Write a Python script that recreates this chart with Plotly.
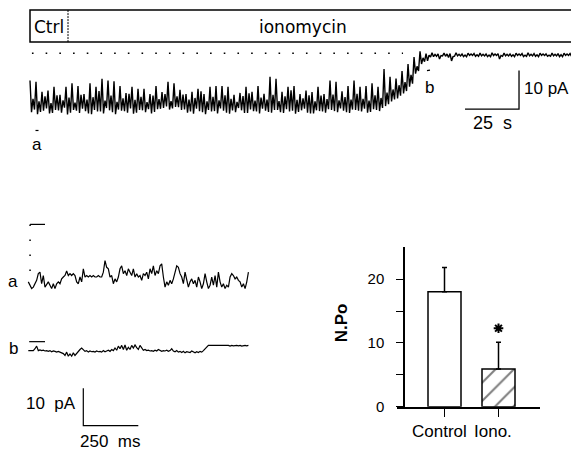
import plotly.graph_objects as go

WIN_W, WIN_H = 579, 458
OFF = 8                       # default page body margin
W, H = WIN_W - OFF, WIN_H - OFF
FONT = "Liberation Sans, Arial, sans-serif"
WIDE = "DejaVu Sans, Liberation Sans, sans-serif"

# ---------------- data ----------------
# Top continuous recording (pA): per ~2.8 s segment a spike peak, trough,
# intermediate peak and second trough
top_hi = [-7.1, -7.4, -10.0, -9.7, -8.7, -10.8, -8.7, -7.8, -8.5, -10.6,
          -7.8, -8.7, -6.6, -7.1, -7.3, -8.5, -10.3, -8.7, -9.2, -9.2,
          -10.6, -8.5, -10.1, -7.4, -7.8, -9.5, -10.6, -10.0, -9.2, -10.6,
          -8.7, -8.5, -8.5, -8.7, -10.8, -10.3, -8.7, -10.0, -8.5, -10.5,
          -6.1, -6.6, -10.0, -8.7, -8.5, -10.6, -9.7, -10.1, -8.7, -10.6,
          -7.1, -7.4, -9.9, -8.5, -7.1, -8.7, -8.5, -7.8, -8.7, -4.1,
          -6.1, -6.6, -4.6, -2.8, -1.0, 0.5, -0.1, 0.1, -0.2, 0.0,
          -0.1, 0.1, -0.2, 0.0, -0.1, 0.0, -0.2, 0.1, -0.1, 0.0,
          -0.2, 0.0, -0.1, 0.1, -0.1, 0.0, -0.2, 0.0, -0.1, 0.0, -0.1]
top_lo = [-15.3, -15.8, -14.9, -15.6, -14.7, -15.4, -15.9, -14.7, -15.5, -15.0,
          -15.8, -15.1, -15.6, -14.8, -15.8, -14.9, -15.4, -15.7, -14.7, -15.3,
          -15.6, -14.5, -14.2, -14.6, -13.9, -14.7, -15.4, -15.7, -15.0, -15.8,
          -15.1, -15.6, -14.9, -15.7, -15.3, -14.8, -15.5, -15.0, -15.6, -14.9,
          -15.4, -14.7, -15.5, -15.1, -15.7, -14.8, -15.4, -15.6, -15.0, -15.4,
          -14.7, -15.3, -14.9, -15.5, -14.7, -15.1, -15.4, -14.5, -15.0, -13.7,
          -12.5, -11.7, -10.4, -8.7, -5.3, -2.8, -2.0, -0.9, -1.5, -0.8,
          -2.0, -0.7, -0.9, -0.6, -0.8, -0.7, -0.9, -0.6, -1.5, -0.7,
          -0.8, -0.6, -0.9, -0.7, -0.8, -0.6, -0.8, -0.7, -0.9, -0.6, -0.8]
top_mid = [-11.8, -12.5, -11.2, -12.9, -10.9, -12.2, -11.5, -12.8, -10.8, -12.0,
           -11.4, -9.8, -12.3, -11.0, -12.6, -11.7, -10.5, -12.1, -11.3, -12.7,
           -11.0, -11.9, -10.6, -12.4, -11.2, -10.7, -12.0, -11.6, -9.9, -12.5,
           -11.3, -12.2, -10.9, -11.8, -12.6, -11.1, -10.4, -12.3, -11.5, -12.0,
           -10.8, -12.4, -11.2, -9.6, -12.1, -11.7, -10.9, -12.5, -11.0, -11.9,
           -10.7, -12.2, -11.4, -12.0, -10.5, -11.8, -12.3, -10.9, -11.6, -10.2,
           -9.4, -8.3, -7.5, -5.6, -3.4, -1.2, -0.5, -0.3, -0.6, -0.2,
           -0.9, -0.3, -0.5, -0.2, -0.4, -0.3, -0.5, -0.2, -0.6, -0.3,
           -0.4, -0.2, -0.5, -0.3, -0.4, -0.2, -0.5, -0.3, -0.4, -0.2, -0.4]
top_lo2 = [-14.6, -15.2, -14.3, -15.5, -14.8, -14.1, -15.4, -14.9, -14.4, -15.6,
           -14.7, -15.1, -14.2, -15.3, -14.6, -15.0, -14.3, -15.4, -14.8, -14.5,
           -15.2, -14.4, -13.8, -14.3, -14.0, -14.6, -15.1, -14.4, -15.3, -14.7,
           -15.0, -14.3, -15.4, -14.8, -14.2, -15.5, -14.6, -15.1, -14.4, -15.2,
           -14.7, -15.3, -14.5, -14.9, -15.2, -14.4, -15.6, -14.8, -15.1, -14.5,
           -15.0, -14.3, -15.3, -14.6, -14.9, -14.4, -15.2, -14.7, -14.2, -13.2,
           -12.0, -11.0, -9.8, -7.9, -4.6, -2.2, -1.0, -0.8, -0.7, -1.1,
           -0.8, -0.7, -0.9, -0.6, -0.8, -0.7, -0.9, -0.6, -0.8, -0.7,
           -0.9, -0.6, -0.8, -0.7, -0.9, -0.6, -0.8, -0.7, -0.9, -0.6, -0.8]
TOP_SEG_S = 2.778          # seconds per segment

# Expanded sweeps a (control) and b (ionomycin), pA
trace_a = [-15.4, -16.3, -17.2, -16.8, -15.9, -15.0, -13.2, -12.8, -15.9, -13.7,
           -16.8, -15.9, -15.4, -16.3, -17.2, -15.9, -17.2, -15.9, -15.4, -15.9,
           -14.6, -14.1, -13.7, -12.5, -13.7, -13.2, -13.7, -13.2, -13.7, -15.4,
           -15.9, -14.1, -15.4, -11.9, -14.1, -13.7, -14.1, -13.7, -14.1, -13.7,
           -14.1, -14.1, -13.7, -14.1, -14.1, -12.8, -9.7, -11.5, -11.9, -14.1,
           -13.7, -15.9, -14.6, -15.4, -14.1, -11.9, -11.1, -13.2, -12.4, -13.7,
           -11.9, -12.8, -13.7, -11.9, -14.1, -13.2, -14.1, -13.7, -15.0, -13.2,
           -13.7, -12.8, -14.6, -11.9, -13.2, -11.1, -13.7, -12.4, -13.2, -11.1,
           -10.6, -14.1, -16.8, -15.4, -16.3, -15.0, -15.9, -14.6, -12.8, -11.1,
           -11.5, -13.2, -14.1, -15.9, -12.8, -15.0, -16.8, -15.4, -14.6, -15.9,
           -15.0, -16.8, -14.1, -15.4, -17.2, -15.9, -13.2, -15.4, -17.2, -16.3,
           -14.1, -16.3, -13.7, -16.8, -12.8, -15.4, -16.8, -15.9, -17.2, -16.3,
           -16.8, -14.1, -13.2, -13.7, -14.6, -14.1, -15.0, -15.4, -16.8, -15.9,
           -17.2, -15.4, -12.8]
trace_b = [-2.4, -2.4, -2.3, -2.4, -1.9, -1.2, -2.4, -2.2, -2.4, -2.3,
           -2.5, -2.4, -2.6, -2.4, -2.7, -2.5, -2.6, -2.8, -2.6, -2.8,
           -3.0, -3.2, -3.7, -2.8, -3.9, -3.3, -3.9, -3.0, -3.7, -3.1,
           -2.8, -2.1, -1.7, -2.3, -2.6, -2.4, -2.8, -2.5, -2.7, -2.6,
           -2.8, -2.5, -2.7, -2.6, -2.8, -2.4, -2.7, -2.5, -2.3, -2.6,
           -2.1, -2.4, -1.7, -2.3, -1.2, -1.9, -1.0, -2.1, -0.9, -2.3,
           -1.5, -2.1, -1.0, -1.7, -0.9, -1.6, -2.1, -1.0, -1.7, -2.3,
           -2.1, -2.4, -2.3, -2.5, -2.4, -2.6, -2.3, -2.5, -2.1, -2.4,
           -2.6, -2.4, -2.5, -2.3, -2.6, -2.4, -1.9, -2.5, -2.7, -2.4,
           -2.8, -2.6, -2.9, -2.6, -3.0, -2.7, -2.8, -2.9, -2.5, -2.8,
           -3.0, -2.7, -2.9, -2.6, -2.8, -2.4, -1.9, -1.2, -1.0, -1.0,
           -1.0, -0.9, -1.0, -1.0, -1.1, -1.0, -1.0, -0.9, -1.1, -1.0,
           -1.0, -1.2, -1.0, -1.1, -1.0, -1.0, -1.1, -1.0, -1.2, -1.0,
           -1.0, -1.1, -1.0]
SWEEP_DT_MS = 7.58

# Bar chart
bar_labels = ["Control", "Iono."]
bar_values = [18.0, 5.9]
bar_errors = [3.8, 4.2]
bar_ticks = [0, 5, 10, 15, 20]
bar_ticktext = ["0", "", "10", "", "20"]

# ---------------- geometry helpers (window pixel -> paper) ----------------
def PX(x):
    return (x - OFF) / W

def PY(y):
    return 1 - (y - OFF) / H

# top recording axis: t=0 at px 30, 54 px per 25 s; 0 pA at py 54, 3.93 px/pA
T_PER_PX = 25 / 54.0
I_PER_PX = 1 / 3.93
top_xr = [(OFF - 30) * T_PER_PX, (WIN_W - 30) * T_PER_PX]
top_yr = [-(WIN_H - 54) * I_PER_PX, (54 - OFF) * I_PER_PX]

# sweeps axis: t=0 at px 28.3, 55 px per 250 ms; 3.8 px/pA
MS_PER_PX = 250 / 55.0
sw_xr = [(OFF - 28.3) * MS_PER_PX, (WIN_W - 28.3) * MS_PER_PX]
a_yr = [-(WIN_H - 228.3) / 3.8, (228.3 - OFF) / 3.8]
b_yr = [-(WIN_H - 347.7) / 3.8, (347.7 - OFF) / 3.8]

fig = go.Figure()

# top trace
top_t, top_i = [], []
q = TOP_SEG_S / 4
for k in range(len(top_hi)):
    t0 = k * TOP_SEG_S
    top_t += [t0, t0 + q, t0 + 2 * q, t0 + 3 * q]
    top_i += [top_hi[k], top_lo[k], top_mid[k], top_lo2[k]]
fig.add_trace(go.Scatter(x=top_t, y=top_i, mode="lines",
                         line=dict(color="black", width=1.4),
                         xaxis="x", yaxis="y", hoverinfo="skip"))
# dotted zero-current line
fig.add_trace(go.Scatter(x=[0.9, 172.7], y=[0, 0], mode="lines",
                         line=dict(color="black", width=1.6, dash="1.6px,12.1px"),
                         xaxis="x", yaxis="y", hoverinfo="skip"))
# top scale bar (25 s, 10 pA)
SB_T, SB_I = 25, 10
SB_END_S, SB_Y0 = 226.4, -14.5
fig.add_trace(go.Scatter(x=[SB_END_S - SB_T, SB_END_S, SB_END_S],
                         y=[SB_Y0, SB_Y0, SB_Y0 + SB_I], mode="lines",
                         line=dict(color="black", width=1.3),
                         xaxis="x", yaxis="y", hoverinfo="skip"))

# sweeps
ta = [k * SWEEP_DT_MS for k in range(len(trace_a))]
tb = [k * SWEEP_DT_MS for k in range(len(trace_b))]
fig.add_trace(go.Scatter(x=ta, y=trace_a, mode="lines",
                         line=dict(color="black", width=1.2),
                         xaxis="x2", yaxis="y2", hoverinfo="skip"))
fig.add_trace(go.Scatter(x=tb, y=trace_b, mode="lines",
                         line=dict(color="black", width=1.2),
                         xaxis="x2", yaxis="y3", hoverinfo="skip"))
# zero levels of the sweeps
fig.add_trace(go.Scatter(x=[8, 76], y=[0, 0], mode="lines",
                         line=dict(color="black", width=1.2),
                         xaxis="x2", yaxis="y2", hoverinfo="skip"))
fig.add_trace(go.Scatter(x=[8, 8], y=[0, -16], mode="lines",
                         line=dict(color="black", width=1.5, dash="1.5px,13.5px"),
                         xaxis="x2", yaxis="y2", hoverinfo="skip"))
fig.add_trace(go.Scatter(x=[4, 76], y=[0, 0], mode="lines",
                         line=dict(color="black", width=1.2),
                         xaxis="x2", yaxis="y3", hoverinfo="skip"))
# sweep scale bar (250 ms, 10 pA)
SB2_T, SB2_I = 250, 10
SB2_X0, SB2_Y0 = 250, -22.5
fig.add_trace(go.Scatter(x=[SB2_X0, SB2_X0, SB2_X0 + SB2_T],
                         y=[SB2_Y0 + SB2_I, SB2_Y0, SB2_Y0], mode="lines",
                         line=dict(color="black", width=1.2),
                         xaxis="x2", yaxis="y3", hoverinfo="skip"))

# bar chart
fig.add_trace(go.Bar(
    x=[0, 1], y=bar_values, width=33 / 54,
    marker=dict(color="white", line=dict(color="black", width=1.5),
                pattern=dict(shape=["", "/"], size=13, solidity=0.16,
                             fgcolor="black", bgcolor="white")),
    error_y=dict(type="data", array=bar_errors, arrayminus=[0, 0],
                 symmetric=False, color="black", thickness=1.5, width=2.5),
    xaxis="x3", yaxis="y4", hoverinfo="skip"))
fig.add_trace(go.Scatter(
    x=[1], y=[bar_values[1] + bar_errors[1] + 2.2], mode="markers",
    marker=dict(symbol="asterisk-open", size=8, color="black",
                line=dict(color="black", width=2)),
    xaxis="x3", yaxis="y4", hoverinfo="skip"))

hidden = dict(visible=False, domain=[0, 1], fixedrange=True)

fig.update_layout(
    width=W, height=H, margin=dict(l=0, r=0, t=0, b=0),
    paper_bgcolor="white", plot_bgcolor="rgba(0,0,0,0)",
    showlegend=False, barmode="overlay",
    font=dict(family=FONT, color="black"),
    xaxis=dict(hidden, range=top_xr, anchor="y"),
    yaxis=dict(hidden, range=top_yr, anchor="x"),
    xaxis2=dict(hidden, range=sw_xr, anchor="y2"),
    yaxis2=dict(hidden, range=a_yr, anchor="x2"),
    yaxis3=dict(hidden, range=b_yr, anchor="x2"),
    xaxis3=dict(domain=[PX(397), PX(540)],
                range=[(397 - 444.5) / 54, (540 - 444.5) / 54],
                anchor="y4", showline=True, linecolor="black", linewidth=1.5,
                ticks="outside", tickvals=[0, 1], ticklen=8, tickwidth=1.2,
                tickcolor="black", showticklabels=False, showgrid=False,
                zeroline=False, fixedrange=True),
    yaxis4=dict(domain=[PY(414), PY(251.5)], range=[0, 25],
                anchor="free", position=PX(404), showline=True,
                linecolor="black", linewidth=1.5, ticks="outside",
                tickvals=bar_ticks, ticktext=bar_ticktext, ticklen=7,
                tickwidth=1.2, tickcolor="black", ticklabelstandoff=9,
                tickfont=dict(family=FONT, size=15, color="black"),
                showgrid=False, zeroline=False, fixedrange=True),
)

shapes = [
    dict(type="rect", xref="paper", yref="paper", x0=PX(30), x1=PX(573),
         y0=PY(42.7), y1=PY(10), line=dict(color="black", width=1.5)),
    dict(type="line", xref="paper", yref="paper", x0=PX(68), x1=PX(68),
         y0=PY(42.7), y1=PY(10), line=dict(color="black", width=1, dash="2px,1px")),
    dict(type="line", xref="paper", yref="paper", x0=PX(35.5), x1=PX(38.5),
         y0=PY(132.7), y1=PY(132.7), line=dict(color="black", width=1.2)),
    dict(type="line", xref="paper", yref="paper", x0=PX(427), x1=PX(430),
         y0=PY(71.7), y1=PY(71.2), line=dict(color="black", width=1.2)),
]
fig.update_layout(shapes=shapes)

def txt(s, x, y, size, xanchor="center", bold=False, angle=0, family=FONT):
    return dict(text=(f"<b>{s}</b>" if bold else s), xref="paper", yref="paper",
                x=PX(x), y=PY(y), xanchor=xanchor, yanchor="middle",
                showarrow=False, textangle=angle,
                font=dict(family=family, size=size, color="black"))

NB = "\u00a0"
ann = [
    txt("Ctrl", 49, 27, 17, family=WIDE),
    txt("ionomycin", 303, 27, 17, family=WIDE),
    txt("b", 429, 88.5, 17),
    txt("a", 37, 147, 17),
    txt("10" + NB + "pA", 522, 90, 17, xanchor="left"),
    txt("25" + NB + NB + "s", 492.5, 125, 18),
    txt("a", 13, 286, 17),
    txt("b", 13, 355, 17),
    txt("10" + NB + NB + "pA", 51, 410.5, 17),
    txt("250" + NB + NB + "ms", 110, 449, 17),
    txt("N.Po", 341.5, 328.5, 17, bold=True, angle=-90),
    txt(bar_labels[0], 439, 439.5, 17),
    txt(bar_labels[1], 492.5, 439.5, 17),
]
fig.update_layout(annotations=ann)

fig.write_html("out.html")
